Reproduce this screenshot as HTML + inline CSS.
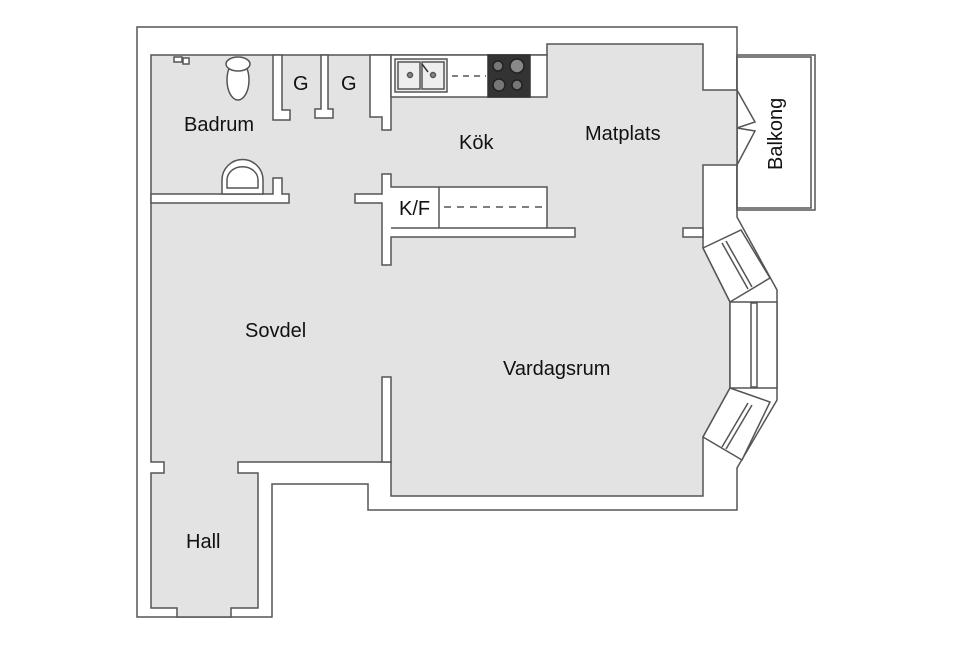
<!DOCTYPE html>
<html><head><meta charset="utf-8"><style>
html,body{margin:0;padding:0;background:#fff;}
svg{display:block;}
text{font-family:"Liberation Sans",Arial,sans-serif;font-size:20px;fill:#111;}
</style></head><body>
<svg width="956" height="652" viewBox="0 0 956 652" xmlns="http://www.w3.org/2000/svg">
<g stroke="#555" stroke-width="1.5" fill="none">
<polygon fill="#fff" points="137,27 737,27 737,217 777,290 777,400 737,468 737,510 368,510 368,484 272,484 272,617 137,617"/>
<rect x="737" y="55" width="78" height="155" fill="#fff"/>
<rect x="737" y="57" width="74" height="151"/>
<polygon fill="#e3e3e3" points="151,55 547,55 547,44 703,44 703,90 737,90 737,165 703,165 703,248 730,302 730,388 703,437 703,496 391,496 391,462 238,462 238,473 258,473 258,608 231,608 231,617 177,617 177,608 151,608 151,473 164,473 164,462 151,462"/>
<polygon fill="#fff" points="273,55 282,55 282,110 290,110 290,120 273,120"/>
<polygon fill="#fff" points="321,55 328,55 328,109 333,109 333,118 315,118 315,109 321,109"/>
<polygon fill="#fff" points="370,55 391,55 391,130 382,130 382,117 370,117"/>
<polygon fill="#fff" points="151,194 273,194 273,178 282,178 282,194 289,194 289,203 151,203"/>
<polygon fill="#fff" points="382,174 391,174 391,187 547,187 547,228 575,228 575,237 391,237 391,265 382,265 382,203 355,203 355,194 382,194"/>
<line x1="391" y1="228" x2="547" y2="228"/>
<line x1="439" y1="187" x2="439" y2="228"/>
<rect x="683" y="228" width="20" height="9" fill="#fff"/>
<rect x="382" y="377" width="9" height="85" fill="#fff"/>
<rect x="391" y="55" width="156" height="42" fill="#fff"/>
<rect x="395" y="59" width="52" height="33" fill="#eee"/>
<rect x="398" y="62" width="22" height="27"/>
<rect x="422" y="62" width="22" height="27"/>
<circle cx="410" cy="75" r="2.5" fill="#888"/>
<circle cx="433" cy="75" r="2.5" fill="#888"/>
<line x1="422" y1="64" x2="428" y2="72" stroke="#333"/>
<rect x="488" y="55" width="42" height="42" fill="#333" stroke="#333"/>
<circle cx="498" cy="66" r="5" fill="#777" stroke="#222"/>
<circle cx="517" cy="66" r="7" fill="#888" stroke="#222"/>
<circle cx="499" cy="85" r="6" fill="#777" stroke="#222"/>
<circle cx="517" cy="85" r="5" fill="#777" stroke="#222"/>
<line x1="452" y1="76" x2="486" y2="76" stroke-dasharray="6,5"/>
<line x1="444" y1="207" x2="547" y2="207" stroke-dasharray="7,6"/>
<ellipse cx="238" cy="80" rx="11" ry="20" fill="#fff"/>
<ellipse cx="238" cy="64" rx="12" ry="7" fill="#fff"/>
<path d="M222,194 L222,180 A19,19 0 0 1 263,180 L263,194 Z" fill="#fff"/>
<path d="M227,188 L227,180 A14,12 0 0 1 258,180 L258,188 Z"/>
<path d="M174,57 l8,0 0,5 -8,0z M183,58 l6,0 0,6 -6,0z" fill="#fff"/>
<polyline points="737,90 755,122 737,128 755,131 737,165"/>
<polygon fill="#fff" points="703,248 741,230 770,278 730,302"/>
<line x1="722" y1="243" x2="748" y2="289"/><line x1="726" y1="241" x2="752" y2="287"/>
<rect x="730" y="302" width="47" height="86" fill="#fff"/>
<rect x="751" y="303" width="6" height="84"/>
<polygon fill="#fff" points="730,388 770,402 742,460 703,437"/>
<line x1="748" y1="403" x2="722" y2="447"/><line x1="752" y1="405" x2="726" y2="449"/>
</g>
<text x="184" y="131">Badrum</text>
<text x="293" y="90">G</text>
<text x="341" y="90">G</text>
<text x="459" y="149">Kök</text>
<text x="585" y="140">Matplats</text>
<text x="399" y="215">K/F</text>
<text x="245" y="337">Sovdel</text>
<text x="503" y="375">Vardagsrum</text>
<text x="186" y="548">Hall</text>
<text transform="translate(782,170) rotate(-90)">Balkong</text>
</svg>
</body></html>
